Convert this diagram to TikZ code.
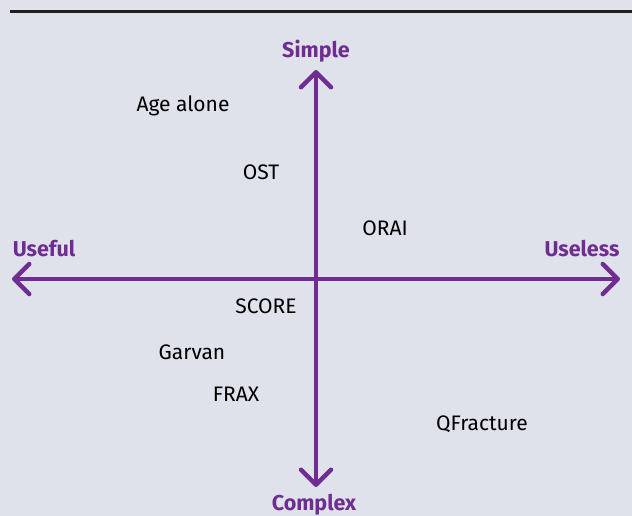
\documentclass[tikz,border=0pt]{standalone}
\usepackage{fontspec}
\setmainfont{Fira Sans}
\usetikzlibrary{arrows.meta}
\definecolor{bgpanel}{HTML}{DFE2EA}
\definecolor{axispurple}{HTML}{6F2C91}
\definecolor{rulegray}{HTML}{231F20}
\tikzset{
  axis/.style={draw=axispurple, line width=4.5pt, line cap=round,
    -{Straight Barb[length=15pt, width=30pt, round]}},
  polelabel/.style={text=axispurple, font=\fontsize{21.5}{24}\selectfont\bfseries, inner sep=0pt},
  toollabel/.style={text=black, font=\fontsize{21}{24}\selectfont, inner sep=0pt},
}
\begin{document}
\begin{tikzpicture}[x=1pt, y=-1pt]
  % panel and top rule
  \fill[bgpanel] (0,0) rectangle (632,516);
  \useasboundingbox (0,0) rectangle (632,516);
  \draw[rulegray, line width=3pt] (10,11.5) -- (632,11.5);

  % axis end points
  \coordinate (centre) at (316,279);
  \coordinate (top) at (316,70);
  \coordinate (bottom) at (316,487);
  \coordinate (left) at (12,279);
  \coordinate (right) at (620,279);

  \draw[axis] (centre) -- (top);
  \draw[axis] (centre) -- (bottom);
  \draw[axis] (centre) -- (left);
  \draw[axis] (centre) -- (right);

  % pole labels
  \node[polelabel] (simple) at (316,51) {Simple};
  \node[polelabel] (complex) at (314,505) {Complex};
  \node[polelabel] (useful) at (44,249) {Useful};
  \node[polelabel] (useless) at (582,249) {Useless};

  % tools
  \node[toollabel] (age) at (183,106) {Age alone};
  \node[toollabel] (ost) at (261,172) {OST};
  \node[toollabel] (orai) at (385,228) {ORAI};
  \node[toollabel] (score) at (266,306) {SCORE};
  \node[toollabel] (garvan) at (192,352) {Garvan};
  \node[toollabel] (frax) at (236,394) {FRAX};
  \node[toollabel] (qfracture) at (482,424) {QFracture};
\end{tikzpicture}
\end{document}
